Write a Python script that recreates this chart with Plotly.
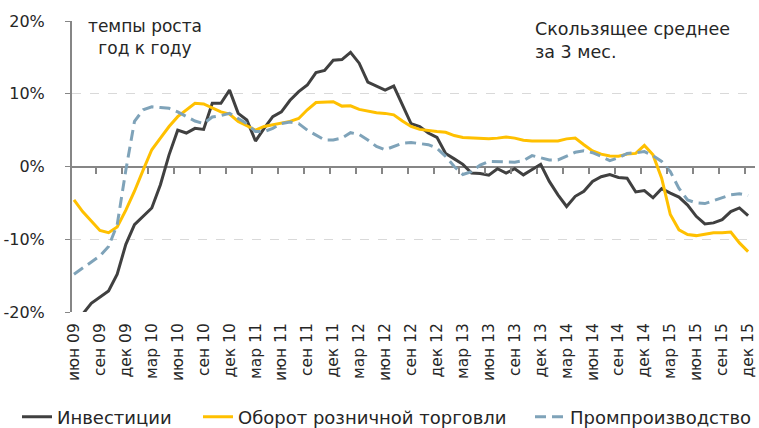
import plotly.graph_objects as go

MONTH_NAMES = ["янв", "фев", "мар", "апр", "май", "июн", "июл", "авг", "сен", "окт", "ноя", "дек"]
# Jun 2009 .. Dec 2015 (79 months)
MONTHS = [f"{MONTH_NAMES[(5 + i) % 12]} {9 + (5 + i) // 12:02d}" for i in range(79)]
TICK_LABELS = MONTHS[::3]

INVEST = [
    -22.5, -20.3, -18.8, -17.9, -17.1, -14.8, -10.7, -8.0, -6.8, -5.7,
    -2.5, 1.6, 5.0, 4.6, 5.25, 5.1, 8.7, 8.7, 10.5, 7.3,
    6.4, 3.5, 5.25, 6.85, 7.5, 9.1, 10.3, 11.2, 12.9, 13.2,
    14.6, 14.7, 15.7, 14.2, 11.6, 11.0, 10.5, 11.05, 8.4, 5.9,
    5.5, 4.6, 4.0, 1.8, 1.05, 0.3, -0.9, -0.95, -1.2, -0.3,
    -0.9, -0.3, -1.15, -0.45, 0.3, -2.05, -3.9, -5.5, -4.1, -3.4,
    -2.05, -1.4, -1.1, -1.5, -1.6, -3.5, -3.3, -4.3, -3.05, -3.65,
    -4.2, -5.3, -6.85, -7.9, -7.75, -7.3, -6.2, -5.7, -6.75,
]
RETAIL = [
    -4.6, -6.2, -7.5, -8.8, -9.1, -8.3, -6.0, -3.4, -0.5, 2.3,
    3.9, 5.5, 6.85, 7.8, 8.7, 8.6, 8.0, 7.5, 7.2, 6.2,
    5.6, 5.0, 5.5, 5.7, 5.9, 6.2, 6.6, 7.8, 8.8, 8.9,
    8.9, 8.3, 8.35, 7.85, 7.6, 7.4, 7.3, 7.1, 6.25, 5.5,
    5.1, 4.9, 4.8, 4.7, 4.25, 4.0, 3.9, 3.9, 3.8, 3.9,
    4.05, 3.9, 3.6, 3.5, 3.5, 3.4, 3.5, 3.8, 3.9, 3.0,
    2.15, 1.7, 1.45, 1.4, 1.7, 1.8, 2.9, 1.6, -1.6, -6.6,
    -8.7, -9.35, -9.5, -9.3, -9.1, -9.1, -9.0, -10.5, -11.7,
]
INDUSTRY = [
    -14.8, -14.0, -13.2, -12.3, -11.0, -8.0, -0.5, 6.2, 7.8, 8.2,
    8.1, 8.0, 7.5, 6.85, 6.25, 5.9, 6.8, 7.0, 7.3, 6.6,
    5.9, 4.8, 4.8, 5.25, 5.9, 6.1, 5.9, 5.0, 4.3, 3.65,
    3.65, 3.9, 4.65, 4.4, 3.65, 2.75, 2.3, 2.8, 3.2, 3.3,
    3.2, 3.0, 2.5, 1.4, 0.0, -1.1, -0.7, 0.2, 0.7, 0.7,
    0.7, 0.6, 0.8, 1.5, 1.2, 0.9, 0.9, 1.4, 1.95, 2.15,
    1.9, 1.4, 0.8, 1.2, 1.8, 1.9, 2.05, 1.5, 0.7, -0.7,
    -3.0, -4.6, -5.0, -5.1, -4.7, -4.25, -3.9, -3.75, -4.0,
]
Y_TICKS = [-20, -10, 0, 10, 20]

FONT = "DejaVu Sans"
TXT = "#262626"
idx = list(range(len(MONTHS)))
tick_pos = [MONTHS.index(t) for t in TICK_LABELS]
x_range = [-0.23, 78.8]

fig = go.Figure()
fig.add_trace(go.Scatter(x=idx, y=INVEST, mode="lines", name="Инвестиции", legend="legend",
                         line=dict(color="#404040", width=3)))
fig.add_trace(go.Scatter(x=idx, y=RETAIL, mode="lines", name="Оборот розничной торговли",
                         legend="legend2", line=dict(color="#FFC000", width=3)))
fig.add_trace(go.Scatter(x=idx, y=INDUSTRY, mode="lines", name="Промпроизводство",
                         legend="legend3", line=dict(color="#7FA3B9", width=3, dash="11px,6px")))
# helper axis carrying the tick marks on the zero line
fig.add_trace(go.Scatter(x=[], y=[], xaxis="x2", yaxis="y2", showlegend=False, hoverinfo="skip"))

def leg(xpx):
    return dict(orientation="h", xref="container", yref="container",
                x=xpx / 759, y=(428 - 417) / 428, xanchor="left", yanchor="middle",
                font=dict(size=18, family=FONT, color=TXT), bgcolor="rgba(0,0,0,0)",
                itemwidth=30)

fig.update_layout(
    template="none",
    width=759, height=428,
    margin=dict(l=72, r=4, t=21, b=116, autoexpand=False),
    paper_bgcolor="white", plot_bgcolor="rgba(0,0,0,0)",
    font=dict(family=FONT, size=15, color=TXT),
    xaxis=dict(range=x_range, tickmode="array", tickvals=tick_pos, ticktext=TICK_LABELS,
               tickangle=-90, showgrid=False, zeroline=False, showline=False,
               ticks="outside", ticklen=4, tickcolor="rgba(0,0,0,0)", automargin=False,
               tickfont=dict(size=15.5, family=FONT, color=TXT)),
    xaxis2=dict(range=x_range, overlaying="x", anchor="y2", side="bottom",
                tickmode="array", tickvals=[p - 0.4 for p in tick_pos[1:]],
                ticks="outside", ticklen=6, tickwidth=1.5, tickcolor="#868686",
                showticklabels=False, showgrid=False, zeroline=False, showline=False,
                automargin=False),
    yaxis=dict(range=[-20, 20], tickmode="array", tickvals=Y_TICKS,
               ticktext=[f"{v}%" for v in Y_TICKS],
               showgrid=True, gridcolor="#d9d9d9", griddash="dash", gridwidth=1,
               zeroline=True, zerolinecolor="#868686", zerolinewidth=2,
               showline=True, linecolor="#868686", linewidth=2,
               ticks="outside", ticklen=5, tickcolor="#868686", ticklabelstandoff=17,
               automargin=False,
               tickfont=dict(size=16, family=FONT, color=TXT)),
    yaxis2=dict(domain=[0.5, 1], range=[0, 1], showgrid=False, zeroline=False,
                showline=False, showticklabels=False, ticks="", automargin=False),
    legend=leg(17),
    legend2=leg(198),
    legend3=leg(530),
    showlegend=True,
    annotations=[
        dict(text="темпы роста<br>год к году", xref="paper", yref="paper",
             x=(145 - 72) / 683, y=(312 - 37) / 291, xanchor="center", yanchor="middle",
             align="center", showarrow=False, font=dict(size=17, family=FONT, color=TXT)),
        dict(text="Скользящее среднее<br>за 3 мес.", xref="paper", yref="paper",
             x=(533 - 72) / 683, y=(312 - 40) / 291, xanchor="left", yanchor="middle",
             align="left", showarrow=False, font=dict(size=17.5, family=FONT, color=TXT)),
    ],
)

fig.write_html("out.html", config={"displayModeBar": False},
               post_script="document.body.style.margin='0px';")
